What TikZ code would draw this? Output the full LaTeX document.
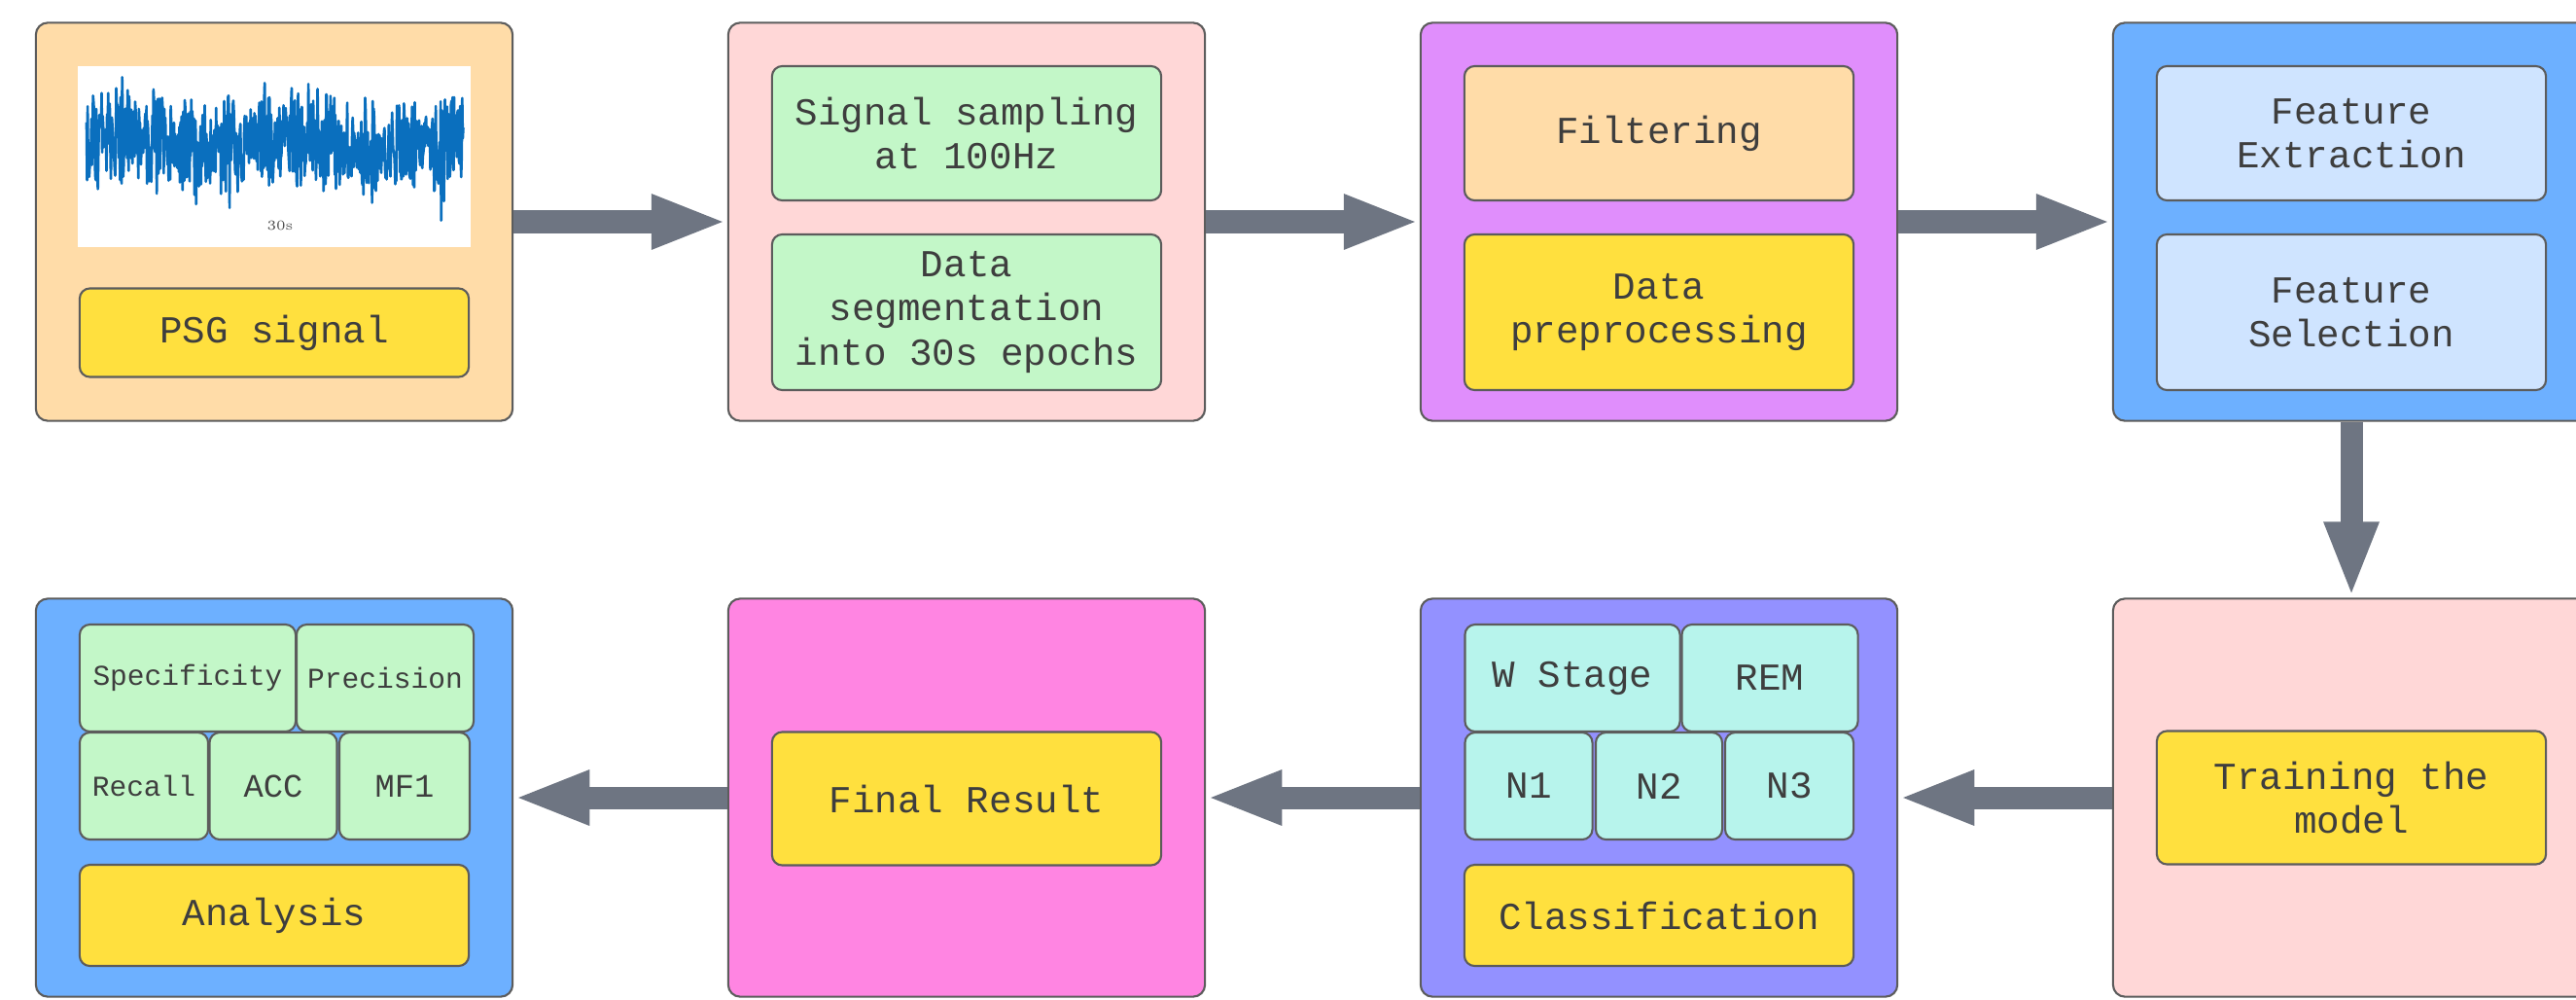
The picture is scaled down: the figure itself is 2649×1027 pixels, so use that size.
\documentclass[tikz,border=0pt]{standalone}
\usepackage{fontspec}
\setmonofont{Liberation Mono}
\usetikzlibrary{arrows.meta}

\definecolor{peach}{HTML}{FFDCA8}
\definecolor{gold}{HTML}{FFE03E}
\definecolor{blush}{HTML}{FFD7D7}
\definecolor{mint}{HTML}{C3F7C8}
\definecolor{violet}{HTML}{E08EFC}
\definecolor{sky}{HTML}{6DB0FF}
\definecolor{ice}{HTML}{CFE4FF}
\definecolor{magenta}{HTML}{FF85E2}
\definecolor{indigo}{HTML}{9391FF}
\definecolor{aqua}{HTML}{B7F4EC}
\definecolor{arrowgrey}{HTML}{6E7582}
\definecolor{edgegrey}{HTML}{5C5C5C}
\definecolor{textgrey}{HTML}{3E3E3E}
\definecolor{wave}{HTML}{0A6FBE}

\begin{document}
\begin{tikzpicture}[
    x=0.01cm, y=-0.01cm,
    every node/.style={font=\ttfamily\fontsize{11.15}{12.8}\selectfont, text=textgrey, align=center}
  ]

  \tikzset{
    stage/.style={draw=edgegrey, line width=0.6pt, rounded corners=3.5pt, minimum width=4.9cm, minimum height=4.09cm, inner sep=0pt},
    inbox/.style={draw=edgegrey, line width=0.6pt, rounded corners=3pt, minimum width=4cm, inner sep=0pt},
    cell/.style={draw=edgegrey, line width=0.6pt, rounded corners=3pt, minimum height=1.1cm, inner sep=0pt},
    small/.style={font=\ttfamily\fontsize{8.4}{10}\selectfont},
    mid/.style={font=\ttfamily\fontsize{9.6}{11}\selectfont},
    flow/.style={-{Triangle[length=0.78cm,width=0.51cm]}, line width=0.23cm, draw=arrowgrey}
  }

  \useasboundingbox (0,0) rectangle (2649,1027);

  % Top row
  \node[stage, fill=peach] (b1) at (282,228) {};
  \node[stage, fill=blush] (b2) at (994,228) {};
  \node[stage, fill=violet] (b3) at (1706,228) {};
  \node[stage, fill=sky] (b4) at (2418,228) {};

  % PSG signal
  \node[fill=white, minimum width=4.03cm, minimum height=1.86cm, inner sep=0pt] (onda) at (282,161) {};
  \begin{scope}
    \clip (onda.south west) rectangle (onda.north east);
    \pgfmathsetseed{11}
    \draw[wave, line width=0.75pt, line join=round]
      plot[domain=89:477, samples=700, variable=\t]
      (\t, {148 + 6*sin(2*\t) + (30+22*abs(sin(5*\t)))*rand + 70*rand*rand*rand*rand});
  \end{scope}
  \node[font=\rmfamily\fontsize{4}{4}\selectfont, text=black!70] (dur) at (288,232) {30s};
  \node[inbox, fill=gold, minimum height=0.91cm] (psg) at (282,342) {PSG signal};

  \node[inbox, fill=mint, minimum height=1.38cm] (samp) at (994,137) {Signal sampling\\at 100Hz};
  \node[inbox, fill=mint, minimum height=1.6cm] (seg) at (994,321) {Data\\segmentation\\into 30s epochs};

  \node[inbox, fill=peach, minimum height=1.38cm] (filt) at (1706,137) {Filtering};
  \node[inbox, fill=gold, minimum height=1.6cm] (prep) at (1706,321) {Data\\preprocessing};

  \node[inbox, fill=ice, minimum height=1.38cm] (fext) at (2418,137) {Feature\\Extraction};
  \node[inbox, fill=ice, minimum height=1.6cm] (fsel) at (2418,321) {Feature\\Selection};

  % Bottom row
  \node[stage, fill=sky] (b8) at (282,820) {};
  \node[stage, fill=magenta] (b7) at (994,820) {};
  \node[stage, fill=indigo] (b6) at (1706,820) {};
  \node[stage, fill=blush] (b5) at (2418,820) {};

  \node[cell, fill=mint, small, minimum width=2.22cm] (spec) at (193,697) {Specificity};
  \node[cell, fill=mint, small, minimum width=1.82cm] (prec) at (396,697) {Precision};
  \node[cell, fill=mint, small, minimum width=1.32cm] (rec) at (148,808) {Recall};
  \node[cell, fill=mint, mid, minimum width=1.31cm] (acc) at (281,808) {ACC};
  \node[cell, fill=mint, mid, minimum width=1.34cm] (mf1) at (416,808) {MF1};
  \node[inbox, fill=gold, minimum height=1.04cm] (anal) at (282,941) {Analysis};

  \node[inbox, fill=gold, minimum height=1.37cm] (final) at (994,821) {Final Result};

  \node[cell, fill=aqua, minimum width=2.21cm] (wst) at (1617,697) {W Stage};
  \node[cell, fill=aqua, minimum width=1.81cm] (rem) at (1820,697) {REM};
  \node[cell, fill=aqua, minimum width=1.31cm] (n1) at (1572,808) {N1};
  \node[cell, fill=aqua, minimum width=1.30cm] (n2) at (1706,808) {N2};
  \node[cell, fill=aqua, minimum width=1.32cm] (n3) at (1840,808) {N3};
  \node[inbox, fill=gold, minimum height=1.04cm] (clas) at (1706,941) {Classification};

  \node[inbox, fill=gold, minimum height=1.37cm] (train) at (2418,820) {Training the\\model};

  % Arrows
  \draw[flow] (b1) -- (b2);
  \draw[flow] (b2) -- (b3);
  \draw[flow] (b3) -- (b4);
  \draw[flow] (b4) -- (b5);
  \draw[flow] (b5) -- (b6);
  \draw[flow] (b6) -- (b7);
  \draw[flow] (b7) -- (b8);

\end{tikzpicture}
\end{document}
